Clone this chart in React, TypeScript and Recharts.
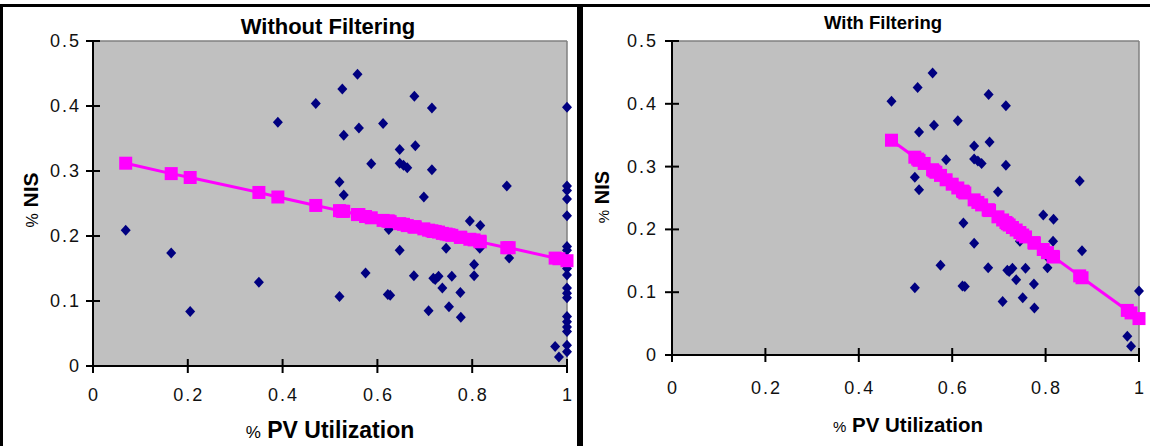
import React from "react";
import { ScatterChart, Scatter, XAxis, YAxis, CartesianGrid, ReferenceLine } from "recharts";

// points seen in both panels (utilization between ~0.47 and ~0.98)
const clusterX = [
  0.47, 0.52, 0.52, 0.529, 0.526, 0.529, 0.558, 0.561, 0.575, 0.587, 0.612, 0.624, 0.622, 0.627, 0.647,
  0.647, 0.647, 0.655, 0.663, 0.677, 0.678, 0.68, 0.698, 0.708, 0.715, 0.715, 0.718, 0.722, 0.729, 0.737,
  0.745, 0.757, 0.751, 0.775, 0.776, 0.795, 0.804, 0.804, 0.817, 0.816, 0.873, 0.878, 0.975, 0.983,
];
const clusterY = [
  0.404, 0.107, 0.283, 0.263, 0.426, 0.355, 0.449, 0.366, 0.143, 0.311, 0.373, 0.21, 0.11, 0.109, 0.333,
  0.178, 0.312, 0.309, 0.305, 0.139, 0.415, 0.339, 0.26, 0.085, 0.397, 0.302, 0.135, 0.133, 0.138, 0.12,
  0.181, 0.138, 0.091, 0.113, 0.075, 0.223, 0.156, 0.139, 0.216, 0.181, 0.277, 0.166, 0.03, 0.014,
];

// low-utilization points, only in the unfiltered panel
const lowX = [0.069, 0.165, 0.205, 0.35, 0.39];
const lowY = [0.209, 0.174, 0.084, 0.129, 0.375];

// points at 100% utilization (unfiltered)
const fullUseY = [
  0.398, 0.277, 0.27, 0.257, 0.231, 0.184, 0.178, 0.165, 0.15, 0.14, 0.12, 0.112, 0.105, 0.076, 0.068,
  0.06, 0.053, 0.032, 0.022,
];
// the single 100% point left after filtering
const filteredFullUseY = [0.102];

// trend lines (fitted values)
const trendLeftX = [
  0.069, 0.165, 0.205, 0.35, 0.39, 0.47, 0.52, 0.526, 0.529, 0.558, 0.561, 0.575, 0.587, 0.612, 0.622,
  0.624, 0.627, 0.647, 0.655, 0.663, 0.677, 0.678, 0.68, 0.698, 0.708, 0.715, 0.718, 0.722, 0.729, 0.737,
  0.745, 0.751, 0.757, 0.775, 0.776, 0.795, 0.804, 0.816, 0.817, 0.873, 0.878, 0.975, 0.983, 1.0,
];
const trendLeftY = [
  0.312, 0.296, 0.29, 0.267, 0.26, 0.247, 0.239, 0.238, 0.238, 0.233, 0.233, 0.23, 0.228, 0.224, 0.223,
  0.223, 0.222, 0.219, 0.218, 0.216, 0.214, 0.214, 0.214, 0.211, 0.209, 0.208, 0.207, 0.207, 0.206, 0.204,
  0.203, 0.202, 0.201, 0.198, 0.198, 0.195, 0.194, 0.192, 0.191, 0.182, 0.182, 0.166, 0.165, 0.162,
];
const trendRightX = [
  0.47, 0.52, 0.526, 0.529, 0.54, 0.558, 0.561, 0.565, 0.575, 0.587, 0.6, 0.612, 0.622, 0.624, 0.627,
  0.647, 0.655, 0.663, 0.677, 0.678, 0.68, 0.698, 0.708, 0.715, 0.718, 0.722, 0.729, 0.737, 0.745, 0.751,
  0.757, 0.775, 0.776, 0.795, 0.804, 0.816, 0.817, 0.873, 0.878, 0.975, 0.983, 1.0,
];
const trendRightY = [
  0.342, 0.315, 0.312, 0.31, 0.305, 0.295, 0.293, 0.291, 0.286, 0.279, 0.272, 0.266, 0.261, 0.26, 0.258,
  0.247, 0.243, 0.239, 0.231, 0.231, 0.23, 0.22, 0.215, 0.211, 0.209, 0.207, 0.203, 0.199, 0.195, 0.191,
  0.188, 0.179, 0.178, 0.168, 0.163, 0.157, 0.156, 0.126, 0.123, 0.071, 0.067, 0.058,
];

const xTicks = [0, 0.2, 0.4, 0.6, 0.8, 1];
const yTicks = [0, 0.1, 0.2, 0.3, 0.4, 0.5];

const toPoints = (xs: number[], ys: number[]) => xs.map((x, i) => ({ x, y: ys[i] }));

const leftPoints = [
  ...toPoints(lowX, lowY),
  ...toPoints(clusterX, clusterY),
  ...fullUseY.map((y) => ({ x: 1, y })),
];
const rightPoints = [...toPoints(clusterX, clusterY), ...filteredFullUseY.map((y) => ({ x: 1, y }))];
const leftTrend = toPoints(trendLeftX, trendLeftY);
const rightTrend = toPoints(trendRightX, trendRightY);

const FONT = '"Liberation Sans", Arial, sans-serif';
const Y_AXIS_W = 60;
const X_AXIS_H = 40;
const TICK_PX = 7;

const Diamond = (props: any) => {
  const { cx, cy } = props;
  if (cx == null || cy == null) return null;
  return <path d={`M${cx},${cy - 5.5} L${cx + 5},${cy} L${cx},${cy + 5.5} L${cx - 5},${cy} Z`} fill="#000080" />;
};

const Square = (props: any) => {
  const { cx, cy } = props;
  if (cx == null || cy == null) return null;
  return <rect x={cx - 6.5} y={cy - 6.5} width={13} height={13} fill="#FF00FF" />;
};

function Panel({
  left,
  width,
  plot,
  points,
  trend,
  yLabelGap,
  xLabelGap,
}: {
  left: number;
  width: number;
  plot: { x0: number; x1: number; y0: number; y1: number };
  points: { x: number; y: number }[];
  trend: { x: number; y: number }[];
  yLabelGap: number;
  xLabelGap: number;
}) {
  const px0 = plot.x0 - left;
  const px1 = plot.x1 - left;
  // tick half-length in data units, so the cross ticks can be drawn as segments
  const dx = TICK_PX / (plot.x1 - plot.x0);
  const dy = (TICK_PX * 0.5) / (plot.y1 - plot.y0);

  const yTick = (p: any) => (
    <text x={px0 - yLabelGap} y={p.y} textAnchor="end" dominantBaseline="central" fontSize={18} fontFamily={FONT} letterSpacing={2} fill="#111">
      {p.payload.value}
    </text>
  );
  const xTick = (p: any) => (
    <text x={p.x + 1} y={plot.y1 + xLabelGap} textAnchor="middle" dominantBaseline="central" fontSize={18} fontFamily={FONT} letterSpacing={2} fill="#111">
      {p.payload.value}
    </text>
  );

  return (
    <div style={{ position: "absolute", left, top: 0 }}>
      <ScatterChart
        width={width}
        height={446}
        margin={{ top: plot.y0, right: width - px1, bottom: 446 - plot.y1 - X_AXIS_H, left: px0 - Y_AXIS_W }}
      >
        <CartesianGrid fill="#C0C0C0" horizontal={false} vertical={false} />
        <ReferenceLine y={0.5} stroke="#808080" strokeWidth={1.5} />
        <ReferenceLine x={1} stroke="#808080" strokeWidth={1.5} />
        <XAxis
          type="number"
          dataKey="x"
          domain={[0, 1]}
          ticks={xTicks}
          interval={0}
          height={X_AXIS_H}
          tickLine={false}
          axisLine={{ stroke: "#000", strokeWidth: 2 }}
          tick={xTick}
        />
        <YAxis
          type="number"
          dataKey="y"
          domain={[0, 0.5]}
          ticks={yTicks}
          interval={0}
          width={Y_AXIS_W}
          tickLine={false}
          axisLine={{ stroke: "#000", strokeWidth: 2 }}
          tick={yTick}
        />
        {xTicks.map((t) => (
          <ReferenceLine
            key={`xt${t}`}
            segment={[{ x: t, y: -dy }, { x: t, y: dy }]}
            stroke="#000"
            strokeWidth={2}
            ifOverflow="visible"
          />
        ))}
        {yTicks.map((t) => (
          <ReferenceLine
            key={`yt${t}`}
            segment={[{ x: -dx, y: t }, { x: dx, y: t }]}
            stroke="#000"
            strokeWidth={2}
            ifOverflow="visible"
          />
        ))}
        <Scatter data={points} shape={Diamond} fill="#000080" isAnimationActive={false} />
        <Scatter
          data={trend}
          shape={Square}
          fill="#FF00FF"
          line={{ stroke: "#FF00FF", strokeWidth: 3 }}
          lineType="joint"
          isAnimationActive={false}
        />
      </ScatterChart>
    </div>
  );
}

const centered = (x: number, y: number): React.CSSProperties => ({
  position: "absolute",
  left: x,
  top: y,
  transform: "translate(-50%, -50%)",
  whiteSpace: "nowrap",
  fontFamily: FONT,
  fontWeight: "bold",
  color: "#000",
  lineHeight: 1,
});

export default function App() {
  return (
    <div style={{ position: "absolute", left: 0, top: 0, width: 1150, height: 446, background: "#fff", overflow: "hidden" }}>
      <Panel
        left={0}
        width={577}
        plot={{ x0: 93, x1: 567, y0: 41, y1: 366 }}
        points={leftPoints}
        trend={leftTrend}
        yLabelGap={12}
        xLabelGap={29}
      />
      <Panel
        left={583}
        width={567}
        plot={{ x0: 672, x1: 1139, y0: 41, y1: 355 }}
        points={rightPoints}
        trend={rightTrend}
        yLabelGap={14}
        xLabelGap={33}
      />

      {/* titles and axis labels */}
      <div style={{ ...centered(328, 27), fontSize: 22 }}>Without Filtering</div>
      <div style={{ ...centered(30, 200), fontSize: 21, transform: "translate(-50%, -50%) rotate(-90deg)" }}>
        <span style={{ fontWeight: "normal", fontSize: 16 }}>%</span> NIS
      </div>
      <div style={{ ...centered(330, 430), fontSize: 23 }}>
        <span style={{ fontWeight: "normal", fontSize: 17 }}>%</span> PV Utilization
      </div>

      <div style={{ ...centered(883, 23), fontSize: 18.5 }}>With Filtering</div>
      <div style={{ ...centered(602, 197), fontSize: 20, transform: "translate(-50%, -50%) rotate(-90deg)" }}>
        <span style={{ fontWeight: "normal", fontSize: 15 }}>%</span> NIS
      </div>
      <div style={{ ...centered(908, 425), fontSize: 20.5 }}>
        <span style={{ fontWeight: "normal", fontSize: 15 }}>%</span> PV Utilization
      </div>

      {/* panel frames */}
      <div style={{ position: "absolute", left: 0, top: 4, width: 1150, height: 3, background: "#000" }} />
      <div style={{ position: "absolute", left: 0, top: 4, width: 3, height: 442, background: "#000" }} />
      <div style={{ position: "absolute", left: 577, top: 4, width: 6, height: 442, background: "#000" }} />
    </div>
  );
}
